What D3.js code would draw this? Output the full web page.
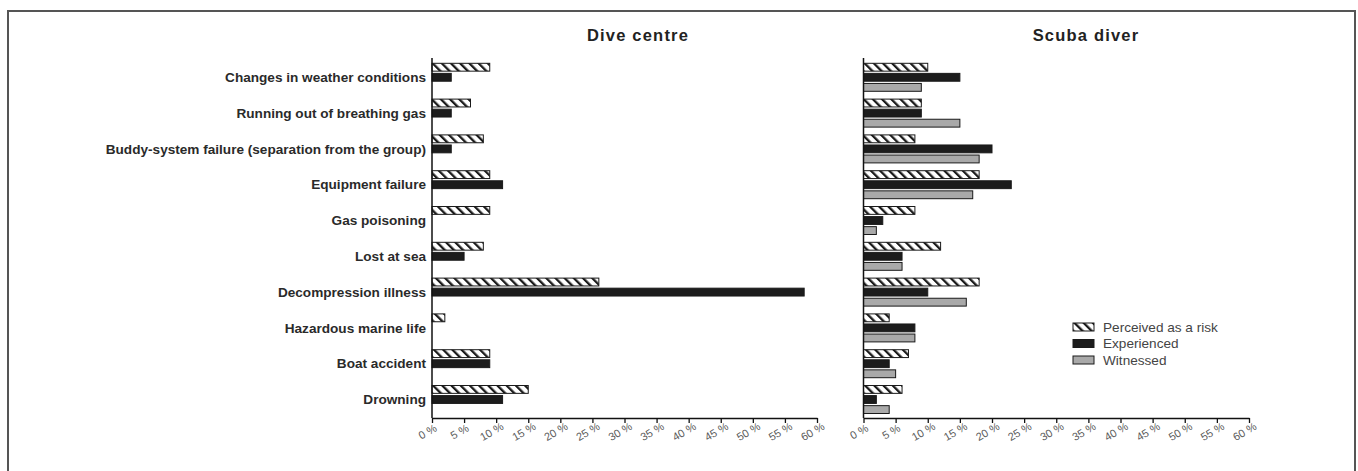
<!DOCTYPE html>
<html>
<head>
<meta charset="utf-8">
<script src="https://cdn.jsdelivr.net/npm/d3@7"></script>
<style>
  html, body { margin: 0; padding: 0; background: #fff; }
  svg { display: block; }
</style>
</head>
<body>
<svg id="chart" width="1358" height="471"></svg>
<script>
// Incident categories, top to bottom
const categories = [
  "Changes in weather conditions",
  "Running out of breathing gas",
  "Buddy-system failure (separation from the group)",
  "Equipment failure",
  "Gas poisoning",
  "Lost at sea",
  "Decompression illness",
  "Hazardous marine life",
  "Boat accident",
  "Drowning"
];

const seriesNames = ["Perceived as a risk", "Experienced", "Witnessed"];

// Dive centre responses (%)
const centrePerceived   = [9, 6, 8, 9, 9, 8, 26, 2, 9, 15];
const centreExperienced = [3, 3, 3, 11, 0, 5, 58, 0, 9, 11];

// Scuba diver responses (%)
const diverPerceived   = [10, 9, 8, 18, 8, 12, 18, 4, 7, 6];
const diverExperienced = [15, 9, 20, 23, 3, 6, 10, 8, 4, 2];
const diverWitnessed   = [9, 15, 18, 17, 2, 6, 16, 8, 5, 4];

const tickValues = [0, 5, 10, 15, 20, 25, 30, 35, 40, 45, 50, 55, 60];

const svg = d3.select("#chart");

// back-slash hatch pattern for "Perceived as a risk"
const defs = svg.append("defs");
const pat = defs.append("pattern")
  .attr("id", "hatch")
  .attr("patternUnits", "userSpaceOnUse")
  .attr("width", 6.5).attr("height", 6.5)
  .attr("patternTransform", "rotate(-45)");
pat.append("rect").attr("width", 6.5).attr("height", 6.5).attr("fill", "#fff");
pat.append("rect").attr("x", 0).attr("y", 0).attr("width", 2.3).attr("height", 6.5).attr("fill", "#1a1a1a");

const fills = {
  "Perceived as a risk": "url(#hatch)",
  "Experienced": "#1c1c1c",
  "Witnessed": "#a9a9a9"
};

// outer frame
svg.append("path")
  .attr("d", "M8,480 L8,11 L1355,11 L1355,480")
  .attr("fill", "none")
  .attr("stroke", "#555")
  .attr("stroke-width", 2);

const y = d3.scaleBand().domain(categories).range([60, 418]).padding(0);
const ySub = d3.scaleBand().domain(seriesNames).range([3.3, 31.3]).paddingInner(0.22);

function panel(opts) {
  const x = d3.scaleLinear().domain([0, 60]).range([opts.x0, opts.x1]);
  const g = svg.append("g");

  // bars
  opts.series.forEach(s => {
    g.append("g").selectAll("rect")
      .data(s.values.map((v, i) => ({ cat: categories[i], v })))
      .join("rect")
      .filter(d => d.v > 0)
      .attr("x", x(0))
      .attr("y", d => y(d.cat) + ySub(s.name))
      .attr("width", d => x(d.v) - x(0))
      .attr("height", ySub.bandwidth())
      .attr("fill", fills[s.name])
      .attr("stroke", "#1a1a1a")
      .attr("stroke-width", 1);
  });

  // x axis
  const xa = g.append("g")
    .attr("transform", `translate(0,418)`)
    .call(d3.axisBottom(x).tickValues(tickValues).tickSize(5).tickSizeOuter(0).tickFormat(d => d + " %"));
  xa.select(".domain").attr("stroke", "#111").attr("stroke-width", 1.5);
  xa.selectAll(".tick line").attr("stroke", "#111").attr("stroke-width", 1.3);
  xa.selectAll(".tick text")
    .attr("font-family", "Liberation Sans, Arial, sans-serif")
    .attr("font-size", 11)
    .attr("fill", "#5a5a5a")
    .attr("text-anchor", "middle")
    .attr("y", 0).attr("dy", 0)
    .attr("transform", "translate(-3,17) rotate(-30)");

  // y axis line
  g.append("line")
    .attr("x1", x(0)).attr("x2", x(0))
    .attr("y1", 58).attr("y2", 418)
    .attr("stroke", "#111").attr("stroke-width", 1.5);

  // title
  g.append("text")
    .attr("x", opts.titleX).attr("y", 41)
    .attr("text-anchor", "middle")
    .attr("font-family", "Liberation Sans, Arial, sans-serif")
    .attr("font-weight", "bold")
    .attr("font-size", 16.5)
    .attr("letter-spacing", 1.2)
    .attr("fill", "#222")
    .text(opts.title);

  return { x, g };
}

panel({
  x0: 432, x1: 817, title: "Dive centre", titleX: 638,
  series: [
    { name: "Perceived as a risk", values: centrePerceived },
    { name: "Experienced", values: centreExperienced }
  ]
});

panel({
  x0: 863.5, x1: 1249, title: "Scuba diver", titleX: 1086,
  series: [
    { name: "Perceived as a risk", values: diverPerceived },
    { name: "Experienced", values: diverExperienced },
    { name: "Witnessed", values: diverWitnessed }
  ]
});

// category labels
svg.append("g").selectAll("text")
  .data(categories)
  .join("text")
  .attr("x", 426)
  .attr("y", d => y(d) + ySub("Experienced") + ySub.bandwidth() / 2)
  .attr("dy", "0.35em")
  .attr("text-anchor", "end")
  .attr("font-family", "Liberation Sans, Arial, sans-serif")
  .attr("font-weight", "bold")
  .attr("font-size", 13.6)
  .attr("fill", "#2a2a2a")
  .text(d => d);

// legend
const lg = svg.append("g").attr("transform", "translate(1073,323)");
seriesNames.forEach((n, i) => {
  const row = lg.append("g").attr("transform", `translate(0,${i * 16.5})`);
  row.append("rect")
    .attr("width", 21).attr("height", 8)
    .attr("fill", fills[n]).attr("stroke", "#1a1a1a").attr("stroke-width", 1);
  row.append("text")
    .attr("x", 30).attr("y", 4).attr("dy", "0.36em")
    .attr("font-family", "Liberation Sans, Arial, sans-serif")
    .attr("font-size", 13.6)
    .attr("fill", "#444")
    .text(n);
});
</script>
</body>
</html>
